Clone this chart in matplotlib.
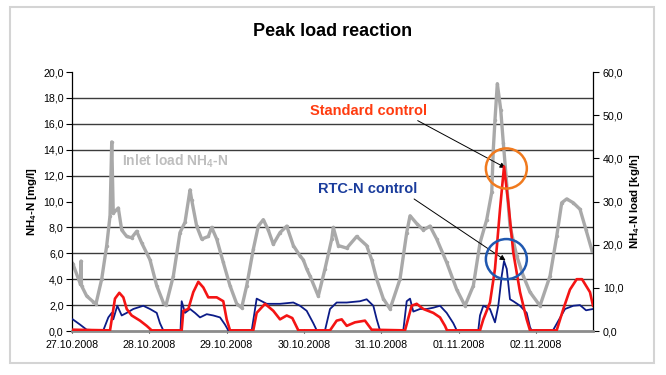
import matplotlib
matplotlib.use("Agg")
import matplotlib.pyplot as plt
from matplotlib.ticker import MultipleLocator, FuncFormatter
from matplotlib.patches import Ellipse, Rectangle
import numpy as np

plt.rcParams['font.family'] = ['Liberation Sans', 'DejaVu Sans']
plt.rcParams['mathtext.fontset'] = 'custom'
plt.rcParams['mathtext.rm'] = 'Liberation Sans'
plt.rcParams['mathtext.bf'] = 'Liberation Sans:bold'

# ---- data (time in days since 27.10.2008 00:00) ----
date_labels = ["27.10.2008", "28.10.2008", "29.10.2008", "30.10.2008",
               "31.10.2008", "01.11.2008", "02.11.2008"]

inlet_t = [0.01, 0.110, 0.116, 0.123, 0.190, 0.276, 0.310, 0.384, 0.449, 0.492,
           0.514, 0.534, 0.599, 0.643, 0.708, 0.772, 0.837, 0.902, 1.009, 1.096,
           1.181, 1.216, 1.311, 1.397, 1.462, 1.527, 1.549, 1.613, 1.678, 1.763,
           1.807, 1.872, 1.957, 2.044, 2.131, 2.195, 2.260, 2.345, 2.410, 2.475,
           2.539, 2.604, 2.691, 2.778, 2.863, 2.950, 2.992, 3.036, 3.079, 3.186,
           3.273, 3.360, 3.380, 3.445, 3.554, 3.683, 3.812, 3.877, 3.942, 4.027,
           4.114, 4.243, 4.330, 4.373, 4.459, 4.545, 4.631, 4.718, 4.847, 4.977,
           5.084, 5.192, 5.278, 5.365, 5.430, 5.450, 5.472, 5.502, 5.546, 5.580,
           5.615, 5.666, 5.753, 5.838, 5.925, 6.054, 6.184, 6.270, 6.335, 6.400,
           6.485, 6.572, 6.650, 6.727]
inlet_load = [15.6, 10.8, 16.2, 10.5, 8.1, 6.75, 6.3, 12.0, 19.8, 26.7,
              43.8, 27.3, 28.5, 23.4, 21.9, 21.6, 23.1, 20.4, 16.5, 10.5,
              6.6, 6.0, 12.75, 22.8, 25.2, 32.7, 30.3, 24.3, 21.3, 21.9,
              24.0, 21.3, 15.9, 10.5, 6.3, 5.4, 10.5, 18.9, 24.3, 25.8,
              23.4, 20.1, 22.8, 24.3, 19.8, 17.4, 16.5, 14.4, 12.75, 8.1,
              14.4, 21.3, 24.0, 19.8, 19.2, 21.9, 19.8, 16.5, 12.0, 7.5,
              5.1, 12.0, 22.8, 26.7, 24.9, 23.4, 24.3, 21.3, 15.9, 9.6,
              5.85, 10.5, 20.4, 25.8, 32.1, 42.0, 48.9, 57.3, 51.3, 43.5,
              36.0, 24.3, 17.4, 12.75, 9.0, 5.85, 12.75, 21.9, 29.7, 30.6,
              29.7, 28.2, 23.4, 18.6]

std_t = [0.01, 0.492, 0.556, 0.612, 0.664, 0.708, 0.772, 0.880, 0.966, 1.031,
         1.419, 1.440, 1.505, 1.569, 1.634, 1.699, 1.763, 1.872, 1.957, 2.001,
         2.044, 2.345, 2.389, 2.497, 2.604, 2.691, 2.778, 2.850, 2.928, 3.338,
         3.424, 3.489, 3.554, 3.661, 3.790, 3.877, 4.308, 4.394, 4.459, 4.545,
         4.674, 4.761, 4.825, 4.851, 5.278, 5.321, 5.407, 5.472, 5.537, 5.589,
         5.644, 5.709, 5.796, 5.882, 5.925, 6.270, 6.356, 6.442, 6.529, 6.598,
         6.701, 6.740]
std_nh4 = [0.1, 0.05, 2.5, 2.95, 2.6, 1.7, 1.2, 0.8, 0.4, 0.05,
           0.05, 1.56, 1.7, 3.0, 3.8, 3.36, 2.6, 2.6, 2.3, 0.9,
           0.05, 0.05, 1.4, 2.1, 1.56, 0.9, 1.2, 1.0, 0.05, 0.05,
           0.8, 0.9, 0.4, 0.67, 0.8, 0.1, 0.05, 1.95, 2.1, 1.7,
           1.4, 1.05, 0.4, 0.05, 0.05, 0.9, 2.2, 4.8, 9.4, 12.7,
           9.9, 6.05, 3.0, 0.9, 0.05, 0.05, 1.7, 3.2, 4.0, 4.0,
           3.0, 1.95]

rtc_t = [0.01, 0.103, 0.190, 0.405, 0.470, 0.514, 0.534, 0.586, 0.643, 0.708,
         0.793, 0.922, 1.009, 1.096, 1.138, 1.181, 1.404, 1.419, 1.462, 1.527,
         1.591, 1.656, 1.743, 1.828, 1.915, 1.979, 2.022, 2.325, 2.389, 2.454,
         2.519, 2.691, 2.863, 2.950, 3.036, 3.122, 3.166, 3.273, 3.338, 3.424,
         3.554, 3.726, 3.812, 3.898, 3.942, 3.984, 4.286, 4.330, 4.373, 4.415,
         4.502, 4.589, 4.674, 4.761, 4.847, 4.933, 4.977, 5.256, 5.278, 5.321,
         5.407, 5.472, 5.515, 5.559, 5.589, 5.624, 5.666, 5.709, 5.796, 5.882,
         5.925, 5.945, 6.222, 6.378, 6.485, 6.572, 6.650, 6.740]
rtc_nh4 = [0.9, 0.5, 0.1, 0.05, 1.05, 1.4, 0.9, 1.95, 1.2, 1.4,
           1.7, 1.95, 1.7, 1.4, 0.6, 0.05, 0.05, 2.3, 1.4, 1.7,
           1.4, 1.05, 1.3, 1.2, 1.05, 0.5, 0.05, 0.05, 2.5, 2.3,
           2.1, 2.1, 2.2, 1.95, 1.56, 0.6, 0.05, 0.05, 1.7, 2.2,
           2.2, 2.3, 2.45, 1.95, 0.9, 0.05, 0.05, 2.3, 2.5, 1.5,
           1.7, 1.7, 1.8, 1.95, 1.4, 0.6, 0.05, 0.05, 1.2, 1.95,
           1.7, 0.67, 1.95, 4.25, 5.4, 4.8, 2.45, 2.3, 1.95, 1.4,
           0.3, 0.05, 0.05, 1.7, 1.95, 2.0, 1.6, 1.7]

# ---- figure ----
fig = plt.figure(figsize=(6.66, 3.75), dpi=100)
fig.patches.append(Rectangle((0.015, 0.032), 0.967, 0.949, transform=fig.transFigure,
                             fill=False, edgecolor='#D4D4D4', linewidth=1.5))
ax = fig.add_axes([0.1081, 0.1173, 0.7823, 0.6907])
ax2 = ax.twinx()
ax.set_zorder(ax2.get_zorder() + 1)
ax.patch.set_visible(False)

gray = '#A9A9A9'
red = '#F41414'
navy = '#0C1C88'

ax2.plot(inlet_t, inlet_load, color=gray, lw=2.4, marker='.', ms=3, zorder=2)
ax.plot(rtc_t, rtc_nh4, color=navy, lw=1.3, zorder=3)
ax.plot(std_t, std_nh4, color=red, lw=1.9, zorder=4)

ax.set_xlim(0, 6.74)
ax.set_ylim(0, 20)
ax2.set_ylim(0, 60)

ax.set_xticks(range(len(date_labels)))
ax.set_xticklabels(date_labels)
ax.yaxis.set_major_locator(MultipleLocator(2))
ax2.yaxis.set_major_locator(MultipleLocator(10))
comma = FuncFormatter(lambda v, p: f"{v:.1f}".replace('.', ','))
ax.yaxis.set_major_formatter(comma)
ax2.yaxis.set_major_formatter(comma)

# gridlines on the lower axes (every 2 mg/l == 6 kg/h)
ax2.yaxis.set_minor_locator(MultipleLocator(6))
ax2.grid(which='minor', axis='y', color='#3C3C3C', lw=1.0)
ax2.tick_params(which='minor', length=0)
ax2.set_axisbelow(True)

for a in (ax, ax2):
    a.spines['top'].set_visible(False)
ax.spines['bottom'].set_color('#8C8C8C')
ax.spines['bottom'].set_linewidth(2.0)
ax2.spines['bottom'].set_visible(False)
ax.spines['left'].set_linewidth(0.9)
ax2.spines['right'].set_linewidth(0.9)
ax2.spines['left'].set_visible(False)
ax.spines['right'].set_visible(False)

ax.tick_params(axis='y', labelsize=7.7, length=4, width=0.8, pad=2)
ax2.tick_params(axis='y', labelsize=7.7, length=4, width=0.8, pad=3)
ax.tick_params(axis='x', labelsize=7.7, length=3, width=0.8, pad=5, direction='inout')

ax.set_ylabel(r"NH$_\mathbf{4}$-N [mg/l]", fontsize=8.2, fontweight='bold')
ax2.set_ylabel(r"NH$_\mathbf{4}$-N load [kg/h]", fontsize=8.2, fontweight='bold')
ax.yaxis.set_label_coords(-0.063, 0.5)
ax2.yaxis.set_label_coords(1.068, 0.5)

fig.text(0.5, 0.917, "Peak load reaction", ha='center', va='center',
         fontsize=13, fontweight='bold')

# annotations
i_std = int(np.argmax(std_nh4))
i_rtc = int(np.argmax(rtc_nh4))
ax.annotate("Standard control", xy=(std_t[i_std] + 0.02, std_nh4[i_std] - 0.1),
            xytext=(3.83, 17.0), color='#FF3C10', fontsize=10.5, fontweight='bold',
            ha='center', va='center',
            arrowprops=dict(arrowstyle='-|>', color='black', lw=0.7,
                            mutation_scale=8, shrinkA=0, shrinkB=0,
                            relpos=(0.88, 0.0)))
ax.annotate("RTC-N control", xy=(rtc_t[i_rtc] + 0.02, rtc_nh4[i_rtc] + 0.05),
            xytext=(3.82, 10.95), color='#1A3C9C', fontsize=10.5, fontweight='bold',
            ha='center', va='center',
            arrowprops=dict(arrowstyle='-|>', color='black', lw=0.7,
                            mutation_scale=8, shrinkA=0, shrinkB=0,
                            relpos=(0.93, 0.0)))
ax.add_patch(Ellipse((std_t[i_std] + 0.03, std_nh4[i_std] - 0.15), 0.53, 3.1,
                     fill=False, edgecolor='#F07A1E', lw=1.8, zorder=6))
ax.add_patch(Ellipse((rtc_t[i_rtc] + 0.03, rtc_nh4[i_rtc] + 0.15), 0.53, 3.1,
                     fill=False, edgecolor='#2058B0', lw=1.8, zorder=6))
ax.text(0.65, 13.1, r"Inlet load NH$_\mathbf{4}$-N", color='#BEBEBE', fontsize=10,
        fontweight='bold', ha='left', va='center')

fig.savefig("out.png", dpi=100)
